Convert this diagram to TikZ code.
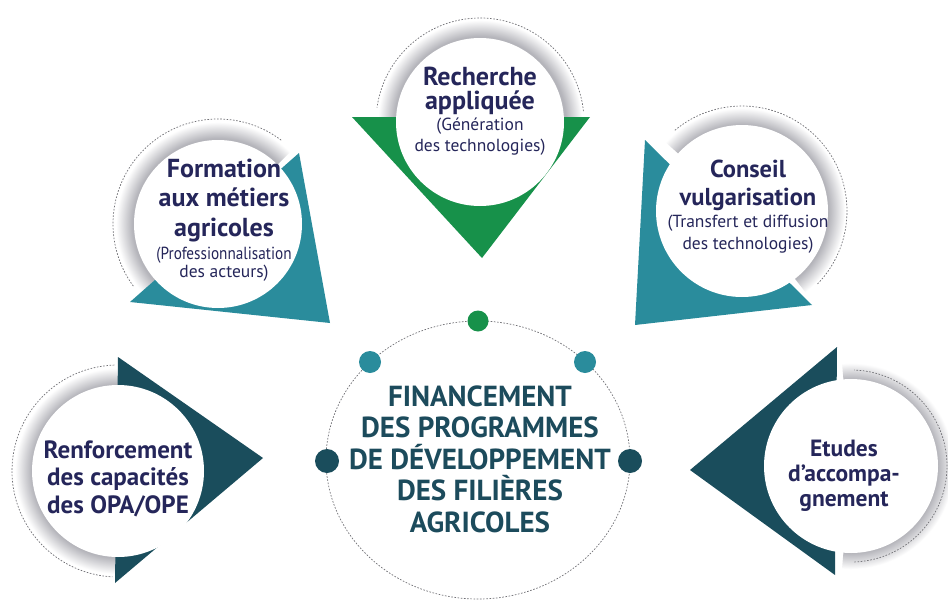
\documentclass[tikz,border=0pt]{standalone}
\usepackage{graphicx}
\usepackage{fontspec}
\setmainfont{PT Sans}
\definecolor{navy}{HTML}{25265A}
\definecolor{centertxt}{HTML}{1C4B5C}
\definecolor{leafgreen}{HTML}{17914A}
\definecolor{teal}{HTML}{2A8C9C}
\definecolor{darkteal}{HTML}{1A4D5C}
\definecolor{ringgray}{HTML}{B4B4BA}
\definecolor{dashgray}{HTML}{707075}
\pgfdeclareradialshading{ringshade}{\pgfpointorigin}{color(0bp)=(ringgray); color(21bp)=(ringgray); color(25bp)=(white); color(50bp)=(white)}
\tikzset{
  disc/.style={circle, fill=white, inner sep=0pt, minimum size=#1},
  dasharc/.style={draw=dashgray, line width=0.7pt, dash pattern=on 1.6pt off 1.6pt},
  title/.style={text=navy, align=center, inner sep=0pt},
  centre/.style={font=\fontsize{29}{31.5}\selectfont\bfseries, text=centertxt, align=center, inner sep=0pt},
  dot/.style={circle, inner sep=0pt, minimum size=#1},
}
\newcommand{\sub}[1]{{\fontsize{17.5}{19}\selectfont\mdseries #1}}
\begin{document}
\begin{tikzpicture}[x=1pt,y=1pt]
\useasboundingbox (0,0) rectangle (948,-605);
\fill[white] (0,0) rectangle (948,-605);

% ---------- centre ----------
\coordinate (cc) at (478,-460);
\draw[dasharc] (cc) ellipse [x radius=152, y radius=139];
\node[dot=21pt, fill=leafgreen] (dg) at (478,-321) {};
\node[dot=22pt, fill=teal] (dt1) at (370,-362) {};
\node[dot=22pt, fill=teal] (dt2) at (585,-362) {};
\node[dot=24pt, fill=darkteal] (dd1) at (327,-461) {};
\node[dot=24pt, fill=darkteal] (dd2) at (630,-461) {};
\node[centre] (ct) at (480,-459) {FINANCEMENT\\DES PROGRAMMES\\DE DÉVELOPPEMENT\\DES FILIÈRES\\AGRICOLES};

% ---------- top : Recherche ----------
\coordinate (c1) at (480,-122);
\begin{scope}
\clip (c1) -- ++(-3:120) arc[start angle=-3, end angle=183, radius=120] -- cycle;
\shade[shading=ringshade] (c1) circle[radius=102];
\end{scope}
\draw[dasharc] (c1) ++(6:104) arc[start angle=6, end angle=172, radius=104];
\fill[leafgreen] (352,-117) -- (590,-117) -- (482,-258) -- cycle;
\node[disc=168pt] (n1) at (c1) {};
\node[title, font=\fontsize{26}{24}\selectfont\bfseries] (t1) at (480,-111) {Recherche\\appliquée\\[-3pt]\sub{(Génération}\\[-3pt]\sub{des technologies)}};

% ---------- upper left : Formation ----------
\coordinate (c2) at (218,-224);
\begin{scope}
\clip (c2) -- ++(45:120) arc[start angle=45, end angle=232, radius=120] -- cycle;
\shade[shading=ringshade] (c2) circle[radius=102];
\end{scope}
\draw[dasharc] (c2) ++(53:105) arc[start angle=53, end angle=217, radius=105];
\fill[teal] (299,-153) -- (330,-323) -- (130,-302) -- cycle;
\node[disc=168pt] (n2) at (c2) {};
\node[title, font=\fontsize{26}{29.5}\selectfont\bfseries] (t2) at (224,-220) {Formation\\aux métiers\\agricoles\\[-6.5pt]\sub{\scalebox{0.87}[1]{(Professionnalisation}}\\[-11.5pt]\sub{des acteurs)}};

% ---------- upper right : Conseil ----------
\coordinate (c3) at (742,-211);
\begin{scope}
\clip (c3) -- ++(-52:120) arc[start angle=-52, end angle=138, radius=120] -- cycle;
\shade[shading=ringshade] (c3) circle[radius=103];
\end{scope}
\draw[dasharc] (c3) ++(-44:105) arc[start angle=-44, end angle=130, radius=105];
\fill[teal] (645,-140) -- (812,-305) -- (635,-325) -- cycle;
\node[disc=172pt] (n3) at (c3) {};
\node[title, font=\fontsize{24.5}{28}\selectfont\bfseries] (t3) at (748,-206.5) {Conseil\\vulgarisation\\[-6pt]\sub{(Transfert et diffusion}\\[-6pt]\sub{des technologies)}};

% ---------- left : Renforcement ----------
\coordinate (c4) at (118,-471);
\begin{scope}
\clip (c4) -- ++(85:125) arc[start angle=85, end angle=275, radius=125] -- cycle;
\shade[shading=ringshade] (c4) circle[radius=103];
\end{scope}
\draw[dasharc] (c4) ++(92:106) arc[start angle=92, end angle=267, radius=106];
\fill[darkteal] (118,-357) -- (263,-458) -- (115,-583) -- cycle;
\node[disc=172pt] (n4) at (c4) {};
\node[title, font=\fontsize{25}{27.5}\selectfont\bfseries] (t4) at (118,-478.5) {Renforcement\\des capacités\\des OPA/OPE};

% ---------- right : Etudes ----------
\coordinate (c5) at (851,-466);
\begin{scope}
\clip (c5) -- ++(-95:125) arc[start angle=-95, end angle=95, radius=125] -- cycle;
\shade[shading=ringshade] (c5) circle[radius=103];
\end{scope}
\draw[dasharc] (c5) ++(-88:96) arc[start angle=-88, end angle=88, radius=96];
\fill[darkteal] (837,-347) -- (690,-470) -- (835,-575) -- cycle;
\node[disc=174pt] (n5) at (c5) {};
\node[title, font=\fontsize{23.5}{25}\selectfont\bfseries] (t5) at (844,-476) {Etudes\\d’accompa-\\gnement};
\end{tikzpicture}
\end{document}
